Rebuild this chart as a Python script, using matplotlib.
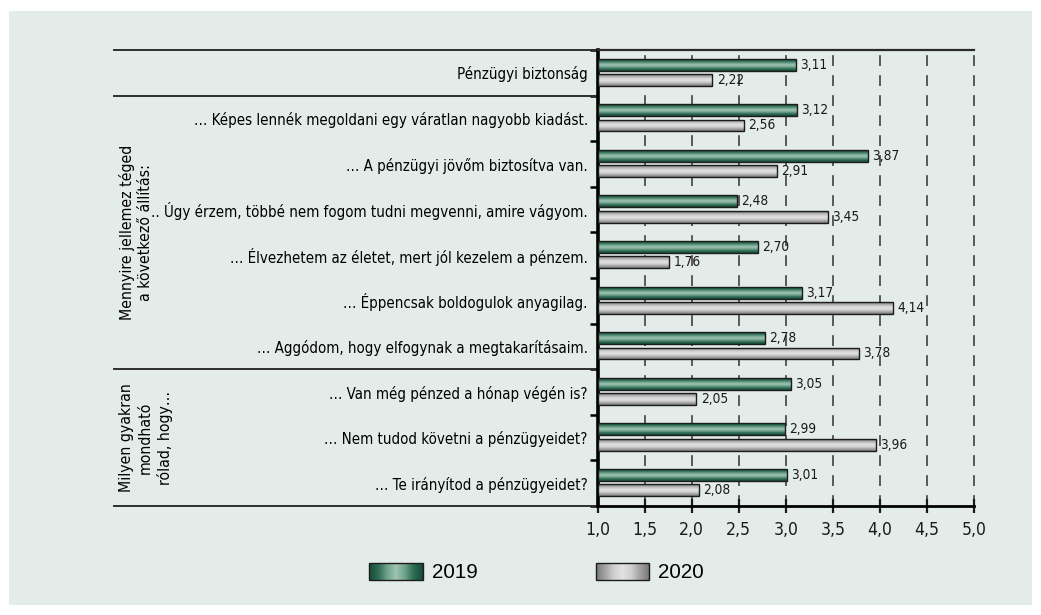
import numpy as np
import matplotlib
matplotlib.use("Agg")
import matplotlib.pyplot as plt
from matplotlib import font_manager
from matplotlib.colors import LinearSegmentedColormap
from matplotlib.patches import Rectangle
from matplotlib.transforms import blended_transform_factory

# ---------------- data ----------------
categories = [
    "Pénzügyi biztonság",
    "… Képes lennék megoldani egy váratlan nagyobb kiadást.",
    "… A pénzügyi jövőm biztosítva van.",
    ".. Úgy érzem, többé nem fogom tudni megvenni, amire vágyom.",
    "… Élvezhetem az életet, mert jól kezelem a pénzem.",
    "… Éppencsak boldogulok anyagilag.",
    "… Aggódom, hogy elfogynak a megtakarításaim.",
    "… Van még pénzed a hónap végén is?",
    "… Nem tudod követni a pénzügyeidet?",
    "… Te irányítod a pénzügyeidet?",
]
values_2019 = [3.11, 3.12, 3.87, 2.48, 2.70, 3.17, 2.78, 3.05, 2.99, 3.01]
values_2020 = [2.22, 2.56, 2.91, 3.45, 1.76, 4.14, 3.78, 2.05, 3.96, 2.08]
series_names = ["2019", "2020"]
xticks = [1.0, 1.5, 2.0, 2.5, 3.0, 3.5, 4.0, 4.5, 5.0]
group_labels = ["Mennyire jellemez téged\na következő állítás:",
                "Milyen gyakran\nmondható\nrólad, hogy…"]
group_spans = [(1, 7), (7, 10)]
separators = [0, 1, 7, 10]
base = 1.0

# ---------------- fonts ----------------
names = {f.name for f in font_manager.fontManager.ttflist}
if "Liberation Sans Narrow" in names:
    NARROW = dict(family="Liberation Sans Narrow")
    fs_cat, fs_val, fs_tick, fs_grp = 11.8, 10.8, 13.8, 13
else:
    NARROW = dict(family="DejaVu Sans", stretch="condensed")
    fs_cat, fs_val, fs_tick, fs_grp = 10.85, 9.8, 12.6, 11.3
REG = dict(family="Liberation Sans")

W, H = 1041, 615
fig = plt.figure(figsize=(W / 100, H / 100), dpi=100)
fig.patch.set_facecolor("white")

# overlay axes in pixel coordinates for panel & legend
over = fig.add_axes([0, 0, 1, 1], zorder=-1)
over.set_xlim(0, W)
over.set_ylim(H, 0)
over.axis("off")
over.add_patch(Rectangle((9, 11), 1023, 594, facecolor="#e4ece9", edgecolor="none"))

ax_left, ax_right = 597.7 / W, 974 / W
ax_top, ax_bot = 1 - 50 / H, 1 - 506 / H
ax = fig.add_axes([ax_left, ax_bot, ax_right - ax_left, ax_top - ax_bot])
ax.patch.set_alpha(0)

green_cmap = LinearSegmentedColormap.from_list(
    "g", ["#154c38", "#2f6b53", "#6ea28b", "#a0c4b4", "#6ea28b", "#2f6b53", "#154c38"])
gray_cmap = LinearSegmentedColormap.from_list(
    "k", ["#7a7a7a", "#a4a4a4", "#cfcfcf", "#e2e2e2", "#cfcfcf", "#a4a4a4", "#7a7a7a"])
grad = np.linspace(0, 1, 64).reshape(-1, 1)

n = len(categories)
y = np.arange(n)
bar_h = 0.26
off = [0.32, 0.655]
cmaps = [green_cmap, gray_cmap]

for si, vals in enumerate([values_2019, values_2020]):
    widths = [v - base for v in vals]
    bars = ax.barh(y + off[si], widths, left=base, height=bar_h,
                   color="none", edgecolor="#1c1c1c", linewidth=1.0, zorder=4)
    for b, v in zip(bars, vals):
        x0, y0 = b.get_x(), b.get_y()
        im = ax.imshow(grad, cmap=cmaps[si], aspect="auto", interpolation="bilinear",
                       extent=(x0, x0 + b.get_width(), y0 + b.get_height(), y0),
                       zorder=3)
        im.set_clip_path(b)
        ax.annotate(f"{v:.2f}".replace(".", ","), (v, y0 + b.get_height() / 2),
                    xytext=(3, 0), textcoords="offset points", va="center", ha="left",
                    fontsize=fs_val, color="#1a1a1a", zorder=5, **NARROW)

# grid
for xv in xticks[1:]:
    ax.axvline(xv, color="#404040", lw=1.2, linestyle=(0, (6.5, 5.5)), zorder=1,
               clip_on=False)

ax.set_xlim(1, 5)
ax.set_ylim(10, 0)

ax.set_xticks(xticks)
ax.set_xticklabels([f"{t:.1f}".replace(".", ",") for t in xticks], fontsize=fs_tick, **NARROW)
ax.tick_params(axis="x", direction="inout", length=10, width=1.6, pad=6, colors="#1a1a1a")

ax.set_yticks(y + 0.5)
ax.set_yticklabels(categories, fontsize=fs_cat, **NARROW)
ax.tick_params(axis="y", which="major", length=0, pad=7)
ax.set_yticks(list(range(0, 11)), minor=True)
ax.tick_params(axis="y", which="minor", length=5.5, width=1.8, direction="out")

ax.spines["right"].set_visible(False)
ax.spines["left"].set_linewidth(2.6)
ax.spines["bottom"].set_linewidth(2.0)
ax.spines["top"].set_linewidth(1.6)
ax.spines["top"].set_color("#2a2a2a")

# separator lines to the left of the axis
tr = blended_transform_factory(fig.transFigure, ax.transData)
for sy in separators:
    ax.plot([114 / W, ax_left], [sy, sy], transform=tr, clip_on=False,
            color="#2e2e2e", lw=1.4, zorder=2)

# group labels
group_x = [136, 146]
for lab, (a, b), gx in zip(group_labels, group_spans, group_x):
    ax.text(gx / W, (a + b) / 2, lab, transform=tr, rotation=90, ha="center",
            va="center", multialignment="center", fontsize=fs_grp, linespacing=1.3,
            clip_on=False, **NARROW)

# legend
leg_grad = np.linspace(0, 1, 64).reshape(1, -1)
leg_items = [(369, 423, 432, green_cmap), (596, 649, 658, gray_cmap)]
for (x0, x1, tx, cm), name in zip(leg_items, series_names):
    over.imshow(leg_grad, cmap=cm, aspect="auto", interpolation="bilinear",
                extent=(x0, x1, 580, 563), zorder=2)
    over.add_patch(Rectangle((x0, 563), x1 - x0, 17, facecolor="none",
                             edgecolor="#1c1c1c", lw=1.0, zorder=3))
    over.text(tx, 572, name, va="center", ha="left", fontsize=14.8, **REG)
over.set_xlim(0, W)
over.set_ylim(H, 0)

fig.savefig("out.png", dpi=100, facecolor=fig.get_facecolor())
